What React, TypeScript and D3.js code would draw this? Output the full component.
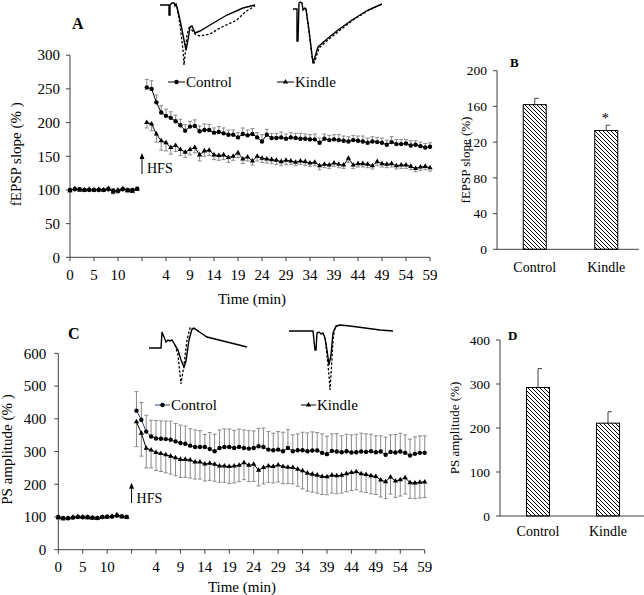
import React from "react";
import * as d3 from "d3";

// ---------- categories & ticks ----------
const timeTickLabels = ["0", "5", "10", "", "4", "9", "14", "19", "24", "29", "34", "39", "44", "49", "54", "59"];
const groups = ["Control", "Kindle"];
const aYTicks = [0, 50, 100, 150, 200, 250, 300];
const cYTicks = [0, 100, 200, 300, 400, 500, 600];
const bYTicks = [0, 40, 80, 120, 160, 200];
const dYTicks = [0, 100, 200, 300, 400];

// ---------- panel A: fEPSP slope (%) ----------
const aBaseControl = [100, 101, 101, 100, 100, 100, 100, 100, 101, 99, 98, 101, 100, 100, 102];
const aBaseControlErr = [2, 2, 2, 2, 2, 2, 2, 2, 3, 3, 3, 2, 2, 2, 2];
const aBaseKindle = [99, 102, 100, 100, 101, 100, 101, 100, 102, 97, 100, 102, 99, 98, 101];
const aBaseKindleErr = [2, 2, 2, 2, 2, 2, 2, 2, 3, 3, 3, 2, 2, 2, 2];
const aPostControl = [252, 250, 230, 215, 210, 207, 202, 196, 188, 194, 195, 187, 189, 189, 185, 186, 184, 182, 182, 178,
  183, 181, 183, 178, 172, 182, 177, 177, 178, 176, 178, 177, 176, 176, 175, 175, 170, 176, 174, 175,
  174, 173, 172, 174, 173, 172, 170, 172, 171, 170, 167, 171, 168, 168, 169, 166, 167, 165, 163, 164];
const aPostControlErr = [12, 12, 11, 10, 10, 9, 9, 9, 9, 8, 9, 8, 9, 8, 7, 8, 8, 7, 7, 7,
  9, 8, 8, 7, 10, 8, 7, 7, 8, 7, 7, 7, 8, 7, 7, 8, 7, 7, 7, 7,
  8, 7, 7, 7, 7, 8, 7, 7, 7, 7, 7, 8, 7, 7, 6, 7, 6, 6, 6, 6];
const aPostKindle = [200, 198, 183, 173, 170, 163, 166, 160, 156, 160, 163, 152, 158, 159, 152, 151, 152, 148, 150, 155,
  146, 149, 143, 150, 147, 146, 145, 144, 142, 144, 143, 141, 143, 142, 140, 141, 136, 138, 137, 140,
  138, 137, 147, 137, 139, 139, 138, 136, 142, 139, 138, 139, 136, 137, 137, 135, 132, 134, 135, 133];
const aPostKindleErr = [8, 10, 12, 14, 12, 10, 9, 9, 8, 8, 8, 9, 8, 8, 7, 7, 7, 7, 6, 7,
  7, 6, 6, 7, 6, 6, 6, 6, 6, 6, 5, 5, 5, 6, 5, 5, 6, 5, 5, 5,
  5, 5, 6, 5, 5, 5, 5, 5, 6, 5, 5, 5, 5, 5, 5, 5, 5, 5, 5, 5];

// ---------- panel C: PS amplitude (%) ----------
const cBaseControl = [100, 97, 96, 98, 100, 99, 100, 98, 97, 100, 101, 101, 104, 102, 100];
const cBaseControlErr = [4, 4, 4, 4, 4, 4, 4, 4, 4, 4, 4, 4, 5, 4, 4];
const cBaseKindle = [98, 95, 96, 99, 101, 100, 98, 97, 96, 99, 100, 102, 107, 101, 99];
const cBaseKindleErr = [4, 4, 4, 4, 4, 4, 4, 4, 4, 4, 4, 4, 5, 4, 4];
const cPostControl = [425, 397, 361, 346, 340, 339, 338, 336, 331, 326, 324, 318, 314, 314, 314, 308, 301, 311, 314, 314,
  311, 314, 311, 309, 311, 316, 314, 306, 304, 306, 301, 311, 301, 304, 304, 301, 303, 303, 296, 292,
  302, 300, 298, 301, 297, 298, 300, 299, 301, 298, 300, 290, 299, 297, 300, 296, 288, 293, 296, 296];
const cPostControlErr = [58, 53, 50, 50, 55, 55, 55, 57, 55, 55, 54, 52, 52, 50, 38, 50, 52, 55, 55, 55,
  54, 55, 55, 55, 52, 55, 58, 55, 52, 55, 58, 56, 50, 50, 55, 56, 57, 55, 58, 55,
  52, 55, 50, 52, 54, 55, 56, 55, 52, 50, 48, 54, 52, 55, 56, 55, 50, 52, 52, 52];
const cPostKindle = [391, 356, 310, 305, 297, 294, 290, 286, 281, 276, 276, 274, 268, 268, 262, 264, 261, 256, 256, 254,
  256, 258, 266, 258, 261, 243, 251, 256, 254, 259, 254, 252, 251, 246, 241, 234, 231, 228, 224, 223,
  228, 226, 228, 232, 236, 238, 232, 230, 226, 224, 213, 208, 222, 210, 214, 220, 205, 204, 206, 207];
const cPostKindleErr = [76, 70, 60, 55, 55, 55, 55, 55, 55, 55, 55, 55, 52, 52, 52, 52, 52, 50, 50, 52,
  52, 50, 52, 50, 52, 48, 50, 50, 50, 52, 52, 50, 50, 52, 55, 55, 55, 55, 55, 55,
  55, 55, 55, 55, 55, 55, 55, 55, 55, 55, 52, 52, 52, 50, 50, 50, 48, 48, 48, 48];

// ---------- panels B & D ----------
const bMeans = [162, 133];
const bErrs = [7, 6];
const dMeans = [292, 211];
const dErrs = [43, 26];

// ---------- inset recordings (time ms, voltage mV) ----------
const traceA1Solid: [number, number][] = [[0, -0.5], [0.7, -0.5], [0.9, -0.5], [0.9, -1.5], [1.0, -1.5], [1.0, -0.5], [1.2, -0.3], [1.4, -0.3], [1.5, -0.6], [1.6, -0.4], [1.7, -0.7], [2.0, -2.0], [2.4, -4.0], [2.6, -5.0], [2.8, -4.0], [3.0, -2.7], [3.2, -2.6], [3.5, -3.3], [4.0, -3.1], [5.0, -2.5], [6.7, -1.5], [8.3, -0.8], [9.5, -0.5]];
const traceA1Dashed: [number, number][] = [[1.7, -0.7], [2.0, -2.5], [2.3, -5.0], [2.4, -6.5], [2.5, -5.5], [2.7, -3.5], [2.9, -2.8], [3.1, -2.9], [3.5, -3.4], [4.0, -3.6], [5.0, -3.4], [6.0, -2.8], [7.7, -2.0], [8.5, -1.2], [9.5, -0.6]];
const traceA2Solid: [number, number][] = [[0.8, -0.9], [1.2, -0.9], [1.2, -4.1], [1.3, -4.1], [1.4, -0.3], [1.5, -0.2], [1.7, -0.3], [1.8, -1.0], [2.0, -0.8], [2.1, -0.9], [2.4, -3.0], [2.7, -5.5], [2.8, -6.2], [2.9, -6.0], [3.3, -4.7], [4.2, -3.9], [5.3, -3.0], [6.7, -2.0], [8.3, -1.0], [9.7, -0.4]];
const traceA2Dashed: [number, number][] = [[2.1, -0.9], [2.4, -3.2], [2.7, -5.7], [2.85, -6.4], [3.0, -6.1], [3.4, -4.8], [4.3, -4.0], [5.4, -3.1], [6.8, -2.0], [8.4, -1.0], [9.7, -0.4]];
const traceC1Solid: [number, number][] = [[0.9, -2.3], [2.1, -2.3], [2.2, -0.7], [2.4, -1.2], [2.6, -1.7], [2.8, -1.5], [3.0, -1.6], [3.2, -1.5], [3.5, -2.0], [3.8, -2.5], [4.1, -3.5], [4.4, -4.2], [4.6, -3.6], [4.9, -1.5], [5.2, -0.4], [5.4, -0.3], [5.8, -0.6], [6.7, -1.2], [8.3, -1.6], [10.7, -2.2]];
const traceC1Dashed: [number, number][] = [[3.5, -2.0], [3.8, -3.0], [4.1, -5.9], [4.4, -4.0], [4.7, -1.5], [5.0, -0.3], [5.5, -0.4], [6.0, -0.7]];
const traceC2Solid: [number, number][] = [[-1.1, -0.6], [1.3, -0.6], [1.5, -2.5], [1.6, -2.5], [1.7, -0.8], [1.9, -0.7], [2.1, -0.9], [2.3, -0.8], [2.5, -1.3], [2.7, -2.5], [2.9, -4.0], [3.1, -3.0], [3.3, -0.8], [3.6, -0.1], [4.0, 0.0], [5.0, -0.1], [6.5, -0.3], [8.0, -0.5], [9.3, -0.6]];
const traceC2Dashed: [number, number][] = [[2.5, -1.3], [2.7, -3.0], [2.9, -5.0], [3.0, -6.5], [3.1, -5.0], [3.3, -1.5], [3.5, -0.2], [4.0, 0.0]];

const FONT = "'Liberation Serif', 'Times New Roman', Times, serif";
const AXIS = "#404040";
const ERR = "#8a8a8a";
const POST_OFFSET = 16;

type Pt = { i: number; v: number; e: number };
const toPts = (vals: number[], errs: number[], offset: number): Pt[] =>
  vals.map((v, k) => ({ i: k + offset, v, e: errs[k] }));

const triPath = d3.symbol().type(d3.symbolTriangle).size(12)() as string;

function Trace({ solid, dashed, ox, oy }: { solid: [number, number][]; dashed: [number, number][]; ox: number; oy: number }) {
  const tx = d3.scaleLinear().domain([0, 10]).range([ox, ox + 100]);
  const ty = d3.scaleLinear().domain([0, -7]).range([oy, oy + 70]);
  const lineLin = d3.line<[number, number]>().x((d) => tx(d[0])).y((d) => ty(d[1]));
  return (
    <g fill="none" stroke="#000">
      <path d={lineLin(dashed) as string} strokeWidth={1.3} strokeDasharray="2.5,1.8" />
      <path d={lineLin(solid) as string} strokeWidth={1.4} />
    </g>
  );
}

function TimeCourse(props: {
  x0: number; x1: number; yBottom: number; yTop: number; yMax: number; yTicks: number[];
  control: Pt[][]; kindle: Pt[][]; controlColor: string;
  yLabel: string; yLabelX: number; xTickY: number; xTitleY: number; xTitleX: number; yTickGap: number;
  hfs: { y0: number; y1: number; ty: number };
  legend: { y: number; c0: number; k0: number; len: number };
  letter: { x: number; y: number; t: string };
  fontSize: number;
}) {
  const x = d3.scaleLinear().domain([0, 75]).range([props.x0, props.x1]);
  const y = d3.scaleLinear().domain([0, props.yMax]).range([props.yBottom, props.yTop]);
  const line = d3.line<Pt>().x((d) => x(d.i)).y((d) => y(d.v));
  const tickIdx = timeTickLabels.map((_, k) => k * 5);
  const fs = props.fontSize;
  const hfsX = x(15);
  const cap = 2;
  return (
    <g style={{ fontFamily: FONT }}>
      {/* axes */}
      <line x1={props.x0} x2={props.x0} y1={y(props.yMax)} y2={props.yBottom} stroke={AXIS} />
      <line x1={props.x0} x2={props.x1} y1={props.yBottom} y2={props.yBottom} stroke={AXIS} />
      {props.yTicks.map((t) => (
        <g key={"y" + t}>
          <line x1={props.x0 - 4} x2={props.x0} y1={y(t)} y2={y(t)} stroke={AXIS} />
          <text x={props.x0 - props.yTickGap} y={y(t)} dy="0.35em" textAnchor="end" fontSize={fs} fill="#000">{t}</text>
        </g>
      ))}
      {tickIdx.map((i, k) => (
        <g key={"x" + i}>
          <line x1={x(i)} x2={x(i)} y1={props.yBottom} y2={props.yBottom + 4} stroke={AXIS} />
          <text x={x(i)} y={props.xTickY} textAnchor="middle" fontSize={fs} fill="#000">{timeTickLabels[k]}</text>
        </g>
      ))}
      <text x={props.xTitleX} y={props.xTitleY} textAnchor="middle" fontSize={fs} fill="#000">Time (min)</text>
      <text transform={`translate(${props.yLabelX},${(y(props.yMax) + props.yBottom) / 2 - 2}) rotate(-90)`} textAnchor="middle" fontSize={fs} fill="#000">{props.yLabel}</text>
      <text x={props.letter.x} y={props.letter.y} fontSize={16} fontWeight="bold" fill="#000">{props.letter.t}</text>

      {/* HFS arrow */}
      <line x1={hfsX} x2={hfsX} y1={props.hfs.y0} y2={props.hfs.y1 + 3} stroke="#000" strokeWidth={1} />
      <path d={`M${hfsX - 2.5},${props.hfs.y1 + 6} L${hfsX},${props.hfs.y1} L${hfsX + 2.5},${props.hfs.y1 + 6} Z`} fill="#000" />
      <text x={hfsX + 5} y={props.hfs.ty} fontSize={fs - 1} fill="#000">HFS</text>

      {/* error bars */}
      {props.control.flat().map((d) => (
        <g key={"ce" + d.i} stroke={ERR} strokeWidth={1}>
          <line x1={x(d.i)} x2={x(d.i)} y1={y(d.v)} y2={y(d.v + d.e)} />
          <line x1={x(d.i) - cap} x2={x(d.i) + cap} y1={y(d.v + d.e)} y2={y(d.v + d.e)} />
        </g>
      ))}
      {props.kindle.flat().map((d) => (
        <g key={"ke" + d.i} stroke={ERR} strokeWidth={1}>
          <line x1={x(d.i)} x2={x(d.i)} y1={y(d.v)} y2={y(d.v - d.e)} />
          <line x1={x(d.i) - cap} x2={x(d.i) + cap} y1={y(d.v - d.e)} y2={y(d.v - d.e)} />
        </g>
      ))}
      {/* lines */}
      {props.control.map((seg, k) => (
        <path key={"cl" + k} d={line(seg) as string} fill="none" stroke={props.controlColor} strokeWidth={1} />
      ))}
      {props.kindle.map((seg, k) => (
        <path key={"kl" + k} d={line(seg) as string} fill="none" stroke="#000" strokeWidth={1} />
      ))}
      {/* markers */}
      {props.control.flat().map((d) => (
        <circle key={"cm" + d.i} cx={x(d.i)} cy={y(d.v)} r={2.2} fill="#000" />
      ))}
      {props.kindle.flat().map((d) => (
        <path key={"km" + d.i} d={triPath} transform={`translate(${x(d.i)},${y(d.v)})`} fill="#000" />
      ))}

      {/* legend */}
      <g>
        <line x1={props.legend.c0} x2={props.legend.c0 + props.legend.len} y1={props.legend.y} y2={props.legend.y} stroke={props.controlColor} />
        <circle cx={props.legend.c0 + props.legend.len / 2} cy={props.legend.y} r={2.2} fill="#000" />
        <text x={props.legend.c0 + props.legend.len + 1} y={props.legend.y + 5} fontSize={fs} fill="#000">{groups[0]}</text>
        <line x1={props.legend.k0} x2={props.legend.k0 + props.legend.len} y1={props.legend.y} y2={props.legend.y} stroke="#000" />
        <path d={triPath} transform={`translate(${props.legend.k0 + props.legend.len / 2},${props.legend.y})`} fill="#000" />
        <text x={props.legend.k0 + props.legend.len + 1} y={props.legend.y + 5} fontSize={fs} fill="#000">{groups[1]}</text>
      </g>
    </g>
  );
}

function BarPanel(props: {
  x0: number; x1: number; bandRange: [number, number]; yBottom: number; yTop: number; yMax: number; yTicks: number[];
  means: number[]; errs: number[]; yLabel: string; yLabelX: number; catY: number;
  letter: { x: number; y: number; t: string }; star?: boolean;
}) {
  const xp = d3.scalePoint<string>().domain(groups).range(props.bandRange).padding(0.5);
  const y = d3.scaleLinear().domain([0, props.yMax]).range([props.yBottom, props.yTop]);
  const bw = 23;
  return (
    <g style={{ fontFamily: FONT }}>
      <line x1={props.x0} x2={props.x0} y1={props.yTop} y2={props.yBottom} stroke={AXIS} />
      <line x1={props.x0} x2={props.x1} y1={props.yBottom} y2={props.yBottom} stroke={AXIS} />
      {props.yTicks.map((t) => (
        <g key={t}>
          <line x1={props.x0 - 4} x2={props.x0} y1={y(t)} y2={y(t)} stroke={AXIS} />
          <text x={props.x0 - 10} y={y(t)} dy="0.35em" textAnchor="end" fontSize={13.5} fill="#000">{t}</text>
        </g>
      ))}
      {groups.map((g, k) => {
        const cx = xp(g) as number;
        return (
          <g key={g}>
            <line x1={cx} x2={cx} y1={y(props.means[k])} y2={y(props.means[k] + props.errs[k])} stroke={AXIS} />
            <line x1={cx} x2={cx + 4} y1={y(props.means[k] + props.errs[k])} y2={y(props.means[k] + props.errs[k])} stroke={AXIS} />
            <rect x={cx - bw / 2} y={y(props.means[k])} width={bw} height={props.yBottom - y(props.means[k])} fill="url(#hatch)" stroke="#000" strokeWidth={1} />
            <text x={cx} y={props.catY} textAnchor="middle" fontSize={14} fill="#000">{g}</text>
          </g>
        );
      })}
      {props.star && (
        <text x={(xp(groups[1]) as number) - 1} y={y(props.means[1] + props.errs[1]) - 2} textAnchor="middle" fontSize={15} fill="#000">*</text>
      )}
      <text transform={`translate(${props.yLabelX},${(props.yTop + props.yBottom) / 2}) rotate(-90)`} textAnchor="middle" fontSize={13} fill="#000">{props.yLabel}</text>
      <text x={props.letter.x} y={props.letter.y} fontSize={13} fontWeight="bold" fill="#000">{props.letter.t}</text>
    </g>
  );
}

export default function App() {
  const aControl = [toPts(aBaseControl, aBaseControlErr, 0), toPts(aPostControl, aPostControlErr, POST_OFFSET)];
  const aKindle = [toPts(aBaseKindle, aBaseKindleErr, 0), toPts(aPostKindle, aPostKindleErr, POST_OFFSET)];
  const cControl = [toPts(cBaseControl, cBaseControlErr, 0), toPts(cPostControl, cPostControlErr, POST_OFFSET)];
  const cKindle = [toPts(cBaseKindle, cBaseKindleErr, 0), toPts(cPostKindle, cPostKindleErr, POST_OFFSET)];
  return (
    <svg width={644} height={595} style={{ position: "absolute", left: 0, top: 0, background: "#fff", fontFamily: FONT }}>
      <defs>
        <pattern id="hatch" patternUnits="userSpaceOnUse" width={4} height={4}>
          <path d="M-1,-1 L5,5 M-1,3 L1,5 M3,-1 L5,1" stroke="#000" strokeWidth={1} />
        </pattern>
      </defs>
      <rect width={644} height={595} fill="#fff" />

      <Trace solid={traceA1Solid} dashed={traceA1Dashed} ox={160} oy={0} />
      <Trace solid={traceA2Solid} dashed={traceA2Dashed} ox={285} oy={0} />
      <Trace solid={traceC1Solid} dashed={traceC1Dashed} ox={140} oy={325} />
      <Trace solid={traceC2Solid} dashed={traceC2Dashed} ox={300} oy={325} />

      <TimeCourse
        x0={70} x1={430} yBottom={257.3} yTop={55.2} yMax={300} yTicks={aYTicks}
        control={aControl} kindle={aKindle} controlColor="#000"
        yLabel="fEPSP slope (% )" yLabelX={21} xTickY={280} xTitleY={304} xTitleX={252} yTickGap={10}
        hfs={{ y0: 174, y1: 153, ty: 173 }}
        legend={{ y: 82, c0: 168, k0: 277, len: 17 }}
        letter={{ x: 72, y: 29, t: "A" }}
        fontSize={15}
      />
      <TimeCourse
        x0={58.3} x1={424.7} yBottom={549.7} yTop={353.4} yMax={600} yTicks={cYTicks}
        control={cControl} kindle={cKindle} controlColor="#2c4670"
        yLabel="PS amplitude (% )" yLabelX={12} xTickY={572} xTitleY={592} xTitleX={242} yTickGap={12}
        hfs={{ y0: 503, y1: 482.7, ty: 503 }}
        legend={{ y: 405, c0: 155, k0: 301, len: 15 }}
        letter={{ x: 68, y: 339, t: "C" }}
        fontSize={15}
      />
      <BarPanel
        x0={497} x1={639} bandRange={[499, 642]} yBottom={249.3} yTop={70.7} yMax={200} yTicks={bYTicks}
        means={bMeans} errs={bErrs} yLabel="fEPSP slope (%)" yLabelX={470} catY={272}
        letter={{ x: 510, y: 67, t: "B" }} star
      />
      <BarPanel
        x0={500} x1={644} bandRange={[503, 643]} yBottom={516} yTop={340} yMax={400} yTicks={dYTicks}
        means={dMeans} errs={dErrs} yLabel="PS amplitude (%)" yLabelX={459} catY={536}
        letter={{ x: 508, y: 340, t: "D" }}
      />
    </svg>
  );
}
